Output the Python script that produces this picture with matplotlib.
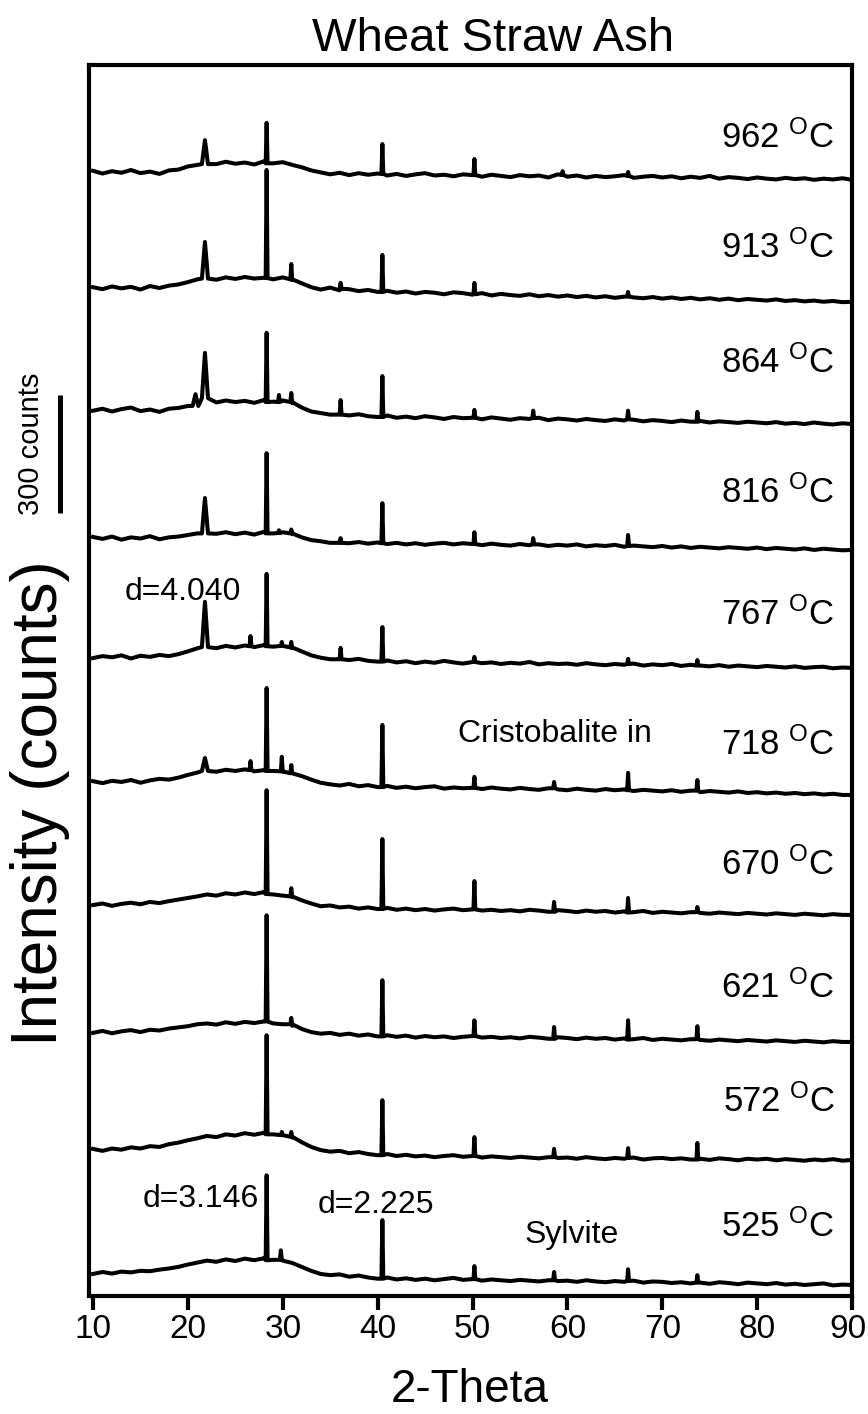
import matplotlib
matplotlib.use('Agg')
import matplotlib.pyplot as plt
import matplotlib.transforms as mtransforms

plt.rcParams['font.family'] = ['Liberation Sans', 'DejaVu Sans']
plt.rcParams['mathtext.fontset'] = 'custom'
plt.rcParams['mathtext.rm'] = 'Liberation Sans'
plt.rcParams['mathtext.it'] = 'Liberation Sans:italic'
plt.rcParams['mathtext.bf'] = 'Liberation Sans:bold'

# ---------------- data ----------------
temps = [525, 572, 621, 670, 718, 767, 816, 864, 913, 962]
offsets = [58, 371, 671, 994, 1307, 1625, 1927, 2253, 2563, 2858]   # counts
scale_bar_counts = 300
x_ticks = [10, 20, 30, 40, 50, 60, 70, 80, 90]
two_theta_grid = list(range(10, 91))

bg_525 = [-2, 3, -1, 4, 2, 6, 5, 9, 12, 16,
          22, 27, 32, 29, 35, 31, 37, 33, 38, 34,
          32, 26, 16, 6, -2, -5, -3, -9, -6, -11,
          -14, -11, -16, -13, -17, -14, -18, -15, -12, -17,
          -15, -19, -16, -18, -20, -17, -19, -21, -18, -20,
          -19, -22, -18, -21, -23, -20, -22, -19, -24, -21,
          -22, -25, -23, -26, -24, -27, -23, -25, -28, -24,
          -26, -28, -25, -29, -27, -30, -28, -26, -31, -29,
          -30]
bg_572 = [3, -2, 4, 1, 7, 4, 10, 8, 15, 19,
          25, 30, 36, 33, 40, 37, 43, 39, 44, 40,
          38, 32, 20, 8, 0, -4, -2, -8, -5, -10,
          -13, -10, -15, -12, -16, -14, -18, -15, -13, -17,
          -15, -19, -16, -18, -20, -17, -19, -21, -18, -20,
          -19, -22, -18, -21, -23, -20, -22, -19, -24, -21,
          -20, -23, -21, -24, -22, -25, -21, -23, -26, -22,
          -24, -22, -26, -23, -25, -27, -24, -26, -23, -27,
          -25]
bg_621 = [-2, 3, -3, 2, 5, 0, 6, 4, 9, 12,
          15, 20, 22, 19, 25, 21, 26, 23, 27, 22,
          20, 16, 8, 0, -4, -2, -7, -4, -9, -6,
          -11, -8, -12, -9, -14, -10, -13, -11, -15, -12,
          -10, -14, -12, -15, -13, -16, -12, -14, -17, -13,
          -15, -18, -14, -17, -15, -19, -16, -18, -15, -20,
          -17, -19, -21, -18, -20, -22, -19, -21, -23, -20,
          -22, -24, -21, -23, -25, -22, -24, -26, -23, -25,
          -25]
bg_670 = [0, 4, -2, 3, 6, 2, 8, 5, 10, 14,
          18, 22, 27, 24, 30, 27, 32, 28, 33, 27,
          24, 20, 12, 4, -3, -1, -6, -4, -9, -6,
          -10, -7, -12, -9, -13, -10, -14, -11, -9, -13,
          -11, -14, -12, -15, -13, -16, -12, -14, -17, -13,
          -15, -18, -14, -17, -15, -19, -16, -18, -15, -20,
          -17, -19, -21, -18, -20, -22, -19, -21, -23, -20,
          -22, -24, -21, -23, -25, -22, -24, -26, -23, -25,
          -25]
bg_718 = [2, -3, 3, 0, 5, -2, 4, 8, 6, 11,
          18, 24, 30, 26, 31, 28, 32, 27, 30, 28,
          26, 22, 15, 6, -2, -6, -9, -5, -11, -8,
          -13, -10, -15, -12, -16, -13, -11, -17, -14, -16,
          -15, -18, -14, -17, -19, -15, -18, -20, -16, -19,
          -21, -17, -20, -22, -18, -21, -19, -23, -20, -22,
          -24, -21, -25, -22, -26, -23, -25, -27, -24, -28,
          -26, -29, -27, -30, -28, -31, -29, -32, -30, -33,
          -33]
bg_767 = [-3, 2, -1, 4, -4, 3, 0, 5, 2, 7,
          14, 22, 27, 22, 28, 24, 29, 25, 30, 26,
          28, 22, 14, 4, -2, -6, -3, -8, -5, -10,
          -12, -9, -14, -11, -16, -12, -15, -10, -14, -17,
          -13, -16, -14, -18, -15, -17, -13, -19, -16, -18,
          -17, -20, -16, -19, -21, -18, -20, -17, -22, -19,
          -21, -18, -23, -20, -22, -24, -21, -25, -22, -24,
          -26, -23, -25, -27, -24, -28, -26, -25, -29, -27,
          -28]
bg_816 = [3, -2, 4, -4, 2, -1, 5, -3, 2, 4,
          8, 12, 16, 11, 15, 10, 14, 9, 16, 12,
          15, 10, 2, -5, -8, -12, -9, -13, -10, -14,
          -11, -15, -12, -16, -13, -17, -14, -12, -16, -13,
          -15, -18, -14, -17, -19, -15, -18, -16, -20, -17,
          -19, -16, -21, -18, -20, -17, -22, -19, -21, -23,
          -20, -24, -21, -25, -22, -24, -26, -23, -25, -27,
          -24, -28, -25, -27, -29, -26, -30, -27, -29, -31,
          -30]
bg_864 = [-2, 3, -4, 2, 6, -3, 1, -5, 3, 5,
          10, 18, 22, 19, 24, 20, 23, 18, 25, 21,
          24, 17, 6, -4, -8, -12, -9, -14, -11, -16,
          -18, -14, -20, -17, -21, -16, -19, -23, -18, -21,
          -20, -24, -19, -22, -25, -21, -23, -20, -26, -22,
          -24, -27, -23, -26, -28, -24, -27, -25, -29, -26,
          -28, -31, -27, -30, -28, -32, -29, -31, -33, -30,
          -32, -34, -31, -35, -33, -36, -32, -35, -37, -34,
          -36]
bg_913 = [2, -3, 4, -1, 3, -4, 5, 0, 6, 9,
          15, 22, 26, 21, 27, 23, 28, 24, 26, 22,
          27, 20, 12, 2, -4, 1, -6, -3, -8, -5,
          -10, -7, -12, -9, -14, -10, -12, -16, -11, -13,
          -17, -13, -19, -15, -18, -20, -16, -21, -18, -22,
          -19, -23, -20, -24, -21, -25, -22, -24, -26, -23,
          -27, -24, -28, -25, -29, -26, -30, -27, -31, -28,
          -30, -32, -29, -33, -31, -34, -32, -35, -33, -36,
          -35]
bg_962 = [3, -4, 2, -2, 5, -3, 1, -5, 4, 6,
          14, 18, 25, 20, 26, 21, 24, 19, 27, 22,
          25, 18, 12, 4, -1, -6, -2, -8, -3, -7,
          -4, -9, -5, -10, -6, -3, -9, -7, -11, -6,
          -8, -12, -7, -10, -13, -8, -11, -9, -14, -6,
          -12, -9, -14, -10, -13, -11, -8, -15, -12, -10,
          -14, -11, -16, -12, -15, -10, -17, -13, -15, -18,
          -14, -17, -19, -15, -18, -16, -20, -17, -19, -16,
          -20]

# peaks: (2-theta, base counts, top counts), relative to each trace
peaks_525 = [(28.3, 33, 249), (29.8, 34, 58), (40.5, -14, 135), (50.2, -15, 18),
             (58.6, -18, 3), (66.4, -20, 10), (73.7, -24, -5)]
peaks_572 = [(28.3, 40, 292), (29.9, 38, 46), (30.9, 34, 46), (40.5, -13, 127),
             (50.2, -15, 33), (58.6, -18, 3), (66.4, -20, 5), (73.7, -24, 18)]
peaks_621 = [(28.3, 27, 297), (30.9, 20, 36), (40.5, -11, 132), (50.2, -10, 30),
             (58.6, -17, 13), (66.4, -19, 30), (73.7, -18, 15)]
peaks_670 = [(28.3, 28, 292), (30.9, 22, 43), (40.5, -10, 168), (50.2, -11, 61),
             (58.6, -17, 8), (66.4, -19, 18), (73.7, -18, -5)]
peaks_718 = [(21.8, 28, 61), (26.6, 30, 53), (28.3, 28, 239), (29.9, 27, 64),
             (30.9, 22, 43), (40.5, -13, 145), (50.2, -15, 13), (58.6, -16, 0),
             (66.4, -21, 23), (73.7, -22, 5)]
peaks_767 = [(21.8, 25, 140), (26.6, 27, 53), (28.3, 27, 211), (29.9, 28, 38),
             (30.9, 24, 38), (36.1, -6, 23), (40.5, -12, 76), (50.2, -13, 0),
             (66.4, -18, -5), (73.7, -22, -8)]
peaks_816 = [(21.8, 12, 102), (28.3, 12, 216), (29.6, 13, 20), (30.9, 12, 22),
             (36.1, -12, 0), (40.5, -13, 89), (50.2, -15, 15), (56.4, -16, 0),
             (66.4, -20, 8)]
peaks_864 = [(20.8, 10, 40), (21.8, 30, 145), (28.3, 20, 196), (29.6, 20, 38),
             (30.9, 20, 43), (36.1, -12, 25), (40.5, -18, 86), (50.2, -20, 0),
             (56.4, -21, -2), (66.4, -24, -2), (73.7, -30, -5)]
peaks_913 = [(21.8, 24, 117), (28.3, 25, 300), (30.9, 22, 61), (36.1, -2, 13),
             (40.5, -10, 84), (50.2, -16, 13), (66.4, -22, -10)]
peaks_962 = [(21.8, 20, 81), (28.3, 22, 125), (40.5, -5, 71), (50.2, -8, 33),
             (59.5, -8, 2), (66.4, -10, 0)]

backgrounds = [bg_525, bg_572, bg_621, bg_670, bg_718, bg_767, bg_816, bg_864, bg_913, bg_962]
peak_lists = [peaks_525, peaks_572, peaks_621, peaks_670, peaks_718, peaks_767,
              peaks_816, peaks_864, peaks_913, peaks_962]

# ---------------- layout ----------------
W, H = 868, 1414
fig = plt.figure(figsize=(W / 100, H / 100), dpi=100)
ax_l, ax_r, ax_t, ax_b = 89, 852, 65, 1296
ax = fig.add_axes([ax_l / W, 1 - ax_b / H, (ax_r - ax_l) / W, (ax_b - ax_t) / H])

def half_width(p):
    if abs(p - 21.8) < 0.05:
        return 0.32
    if abs(p - 20.8) < 0.05:
        return 0.3
    return 0.1

def build(bg, peaks):
    pts = [(x, y) for x, y in zip(two_theta_grid, bg)
           if all(abs(x - p) > half_width(p) for p, _, _ in peaks)]
    for p, b, t in peaks:
        w = half_width(p)
        pts += [(p - w, b), (p, t), (p + w, b)]
    pts.sort()
    xs = [a for a, _ in pts]
    ys = [b for _, b in pts]
    return xs, ys

for off, bg, pk in zip(offsets, backgrounds, peak_lists):
    xs, ys = build(bg, pk)
    ax.plot(xs, [y + off for y in ys], color='black', lw=2.9, solid_joinstyle='round')

ax.set_xlim(9.578, 90)
ax.set_ylim(0, 3130)
ax.set_xticks(x_ticks)
ax.set_xticklabels([str(t) for t in x_ticks])
ax.set_yticks([])
for s in ax.spines.values():
    s.set_linewidth(3.0)
ax.tick_params(axis='x', direction='out', length=10, width=3.0, labelsize=24, pad=3)
# nudge the last tick label so it stays inside the canvas
last = ax.get_xticklabels()[-1]
last.set_transform(last.get_transform() +
                   mtransforms.ScaledTranslation(-4 / 100, 0, fig.dpi_scale_trans))

# scale bar (300 counts)
trans = mtransforms.blended_transform_factory(ax.transAxes, ax.transData)
ax.plot([-0.038, -0.038], [1990, 1990 + scale_bar_counts], color='black', lw=3.6,
        transform=trans, clip_on=False, solid_capstyle='butt')

def ftext(x, y, s, **kw):
    fig.text(x / W, 1 - y / H, s, **kw)

# temperature labels (baseline positions in px)
label_baseline_px = [1237, 1112, 998, 875, 755, 625, 503, 373, 258, 148]
for t, yb in zip(temps, label_baseline_px):
    ftext(835, yb, str(t) + r' $^{\mathrm{O}}$C', ha='right', va='baseline', fontsize=25)

ftext(125, 600, 'd=4.040', ha='left', va='baseline', fontsize=23)
ftext(458, 742, 'Cristobalite in', ha='left', va='baseline', fontsize=23)
ftext(143, 1207, 'd=3.146', ha='left', va='baseline', fontsize=23)
ftext(318, 1213, 'd=2.225', ha='left', va='baseline', fontsize=23)
ftext(525, 1243, 'Sylvite', ha='left', va='baseline', fontsize=23)

ftext(493, 51, 'Wheat Straw Ash', ha='center', va='baseline', fontsize=34)
ftext(470, 1402, '2-Theta', ha='center', va='baseline', fontsize=33)
ftext(40, 803, 'Intensity (counts)', ha='center', va='center', rotation=90, fontsize=46)
ftext(31, 444, '300 counts', ha='center', va='center', rotation=90, fontsize=21)

fig.savefig('out.png', dpi=100)
